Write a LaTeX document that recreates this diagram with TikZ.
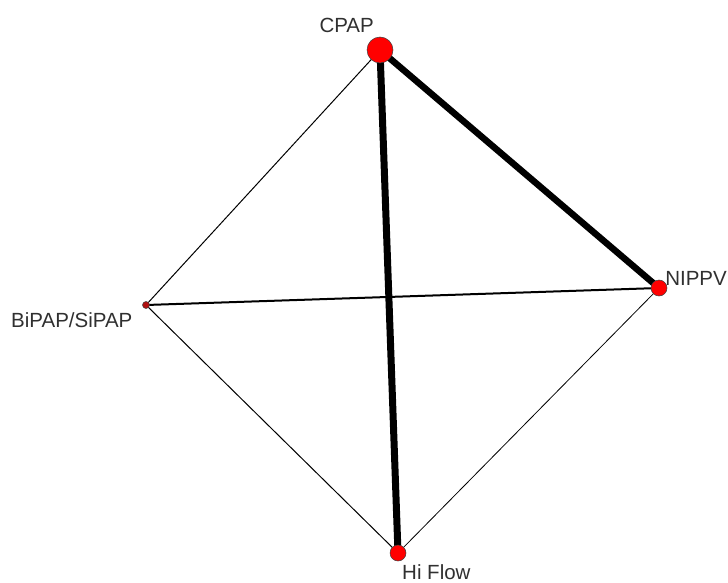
\documentclass[tikz,border=0pt]{standalone}
\usepackage{fontspec}
\setmainfont{Liberation Sans}
\usetikzlibrary{positioning,backgrounds}
\definecolor{nodered}{HTML}{FF0000}
\definecolor{dred}{HTML}{B01010}
\definecolor{txtgray}{HTML}{303030}

\begin{document}
\begin{tikzpicture}[x=1pt,y=-1pt,
  trt/.style={circle,fill=nodered,draw=black!75,line width=0.5pt,inner sep=0pt,minimum size=#1},
  lbl/.style={text=txtgray,font=\fontsize{20.5}{24}\selectfont,inner sep=0pt},
  thinedge/.style={line width=1pt},
  thickedge/.style={line width=6.5pt}]
  \useasboundingbox (0,0) rectangle (728,583);
  % treatments
  \node[trt=26pt] (cpap) at (380,50) {};
  \node[trt=16pt] (nippv) at (659,288) {};
  \node[trt=7pt,fill=dred] (bipap) at (146,305) {};
  \node[trt=16pt] (hiflow) at (398,553) {};
  % names
  \node[lbl,anchor=base east] (cpaplbl) at (374,33) {CPAP};
  \node[lbl,anchor=base east] (nippvlbl) at (727,285) {NIPPV};
  \node[lbl,anchor=base west] (bipaplbl) at (11,327) {BiPAP/SiPAP};
  \node[lbl,anchor=base west] (hiflowlbl) at (402,579.5) {Hi Flow};
  % comparisons
  \begin{scope}[on background layer]
    \draw[thickedge] (cpap.center) -- (nippv.center);
    \draw[thickedge,line width=7pt] (cpap.center) -- (hiflow.center);
    \draw[thinedge,line width=2pt] (bipap.center) -- (nippv.center);
    \draw[thinedge] (cpap.center) -- (bipap.center);
    \draw[thinedge] (bipap.center) -- (hiflow.center);
    \draw[thinedge,line width=0.8pt] (nippv.center) -- (hiflow.center);
  \end{scope}
\end{tikzpicture}
\end{document}
